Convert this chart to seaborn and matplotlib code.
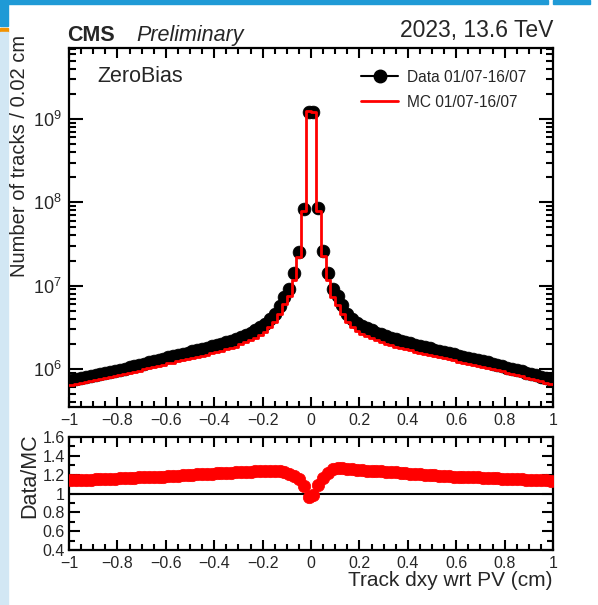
import numpy as np
import pandas as pd
import matplotlib
matplotlib.use("Agg")
import matplotlib.pyplot as plt
from matplotlib.lines import Line2D
from matplotlib.patches import Rectangle
from matplotlib.ticker import MultipleLocator, LogLocator, FuncFormatter, NullFormatter
import seaborn as sns

# Track dxy histogram: 100 bins of 0.02 cm between -1 and 1
n_bins = 100
bin_range = (-1.0, 1.0)
bin_edges = np.round(np.linspace(bin_range[0], bin_range[1], n_bins + 1), 2)
bin_centers = np.round((bin_edges[:-1] + bin_edges[1:]) / 2, 2)

# Data counts per bin (millions of tracks), negative dxy side then positive side
data_neg_millions = [
    0.74, 0.76, 0.78, 0.80, 0.83, 0.85, 0.87, 0.90, 0.92, 0.95,
    0.98, 1.01, 1.05, 1.08, 1.12, 1.16, 1.20, 1.24, 1.28, 1.33,
    1.38, 1.42, 1.47, 1.52, 1.57, 1.63, 1.68, 1.74, 1.80, 1.87,
    1.94, 2.02, 2.10, 2.19, 2.28, 2.42, 2.57, 2.74, 2.93, 3.15,
    3.45, 3.95, 4.55, 5.70, 7.40, 9.10, 14.1, 25.6, 84.0, 1210.0,
]
data_pos_millions = [
    1200.0, 85.0, 26.0, 14.3, 9.2, 7.5, 5.8, 4.6, 4.0, 3.6,
    3.30, 3.08, 2.90, 2.74, 2.60, 2.48, 2.37, 2.27, 2.18, 2.10,
    2.03, 1.96, 1.89, 1.83, 1.77, 1.71, 1.65, 1.60, 1.55, 1.50,
    1.45, 1.40, 1.36, 1.32, 1.28, 1.24, 1.20, 1.16, 1.12, 1.08,
    1.04, 1.00, 0.97, 0.94, 0.90, 0.87, 0.84, 0.81, 0.77, 0.74,
]

# Data/MC ratio per bin
ratio_neg = [
    1.14, 1.14, 1.14, 1.145, 1.145, 1.15, 1.15, 1.15, 1.155, 1.155,
    1.16, 1.16, 1.165, 1.165, 1.17, 1.17, 1.175, 1.175, 1.18, 1.18,
    1.185, 1.19, 1.19, 1.195, 1.20, 1.20, 1.205, 1.205, 1.21, 1.21,
    1.215, 1.215, 1.22, 1.22, 1.225, 1.225, 1.23, 1.23, 1.235, 1.235,
    1.24, 1.24, 1.24, 1.235, 1.225, 1.21, 1.19, 1.15, 1.08, 0.96,
]
ratio_pos = [
    0.98, 1.09, 1.16, 1.22, 1.26, 1.27, 1.27, 1.265, 1.255, 1.25,
    1.245, 1.24, 1.24, 1.235, 1.235, 1.23, 1.23, 1.225, 1.22, 1.215,
    1.21, 1.21, 1.205, 1.20, 1.20, 1.195, 1.19, 1.19, 1.185, 1.18,
    1.18, 1.175, 1.175, 1.17, 1.17, 1.165, 1.165, 1.16, 1.16, 1.155,
    1.155, 1.15, 1.15, 1.15, 1.145, 1.145, 1.14, 1.14, 1.14, 1.135,
]

x_ticks = [-1.0, -0.8, -0.6, -0.4, -0.2, 0.0, 0.2, 0.4, 0.6, 0.8, 1.0]
ratio_ticks = [0.4, 0.6, 0.8, 1.0, 1.2, 1.4, 1.6]

data_counts = np.array(data_neg_millions + data_pos_millions) * 1e6
ratio = np.array(ratio_neg + ratio_pos)
mc_counts = data_counts / ratio

df = pd.DataFrame({"dxy": bin_centers, "data": data_counts,
                   "mc": mc_counts, "ratio": ratio})

sns.set_theme(style="ticks")
plt.rcParams["font.family"] = ["Liberation Sans", "DejaVu Sans"]
plt.rcParams["axes.unicode_minus"] = True
plt.rcParams["mathtext.fontset"] = "custom"
plt.rcParams["mathtext.rm"] = "Liberation Sans"

W, H = 598, 605
fig = plt.figure(figsize=(W / 100, H / 100), dpi=100)


def fx(px):
    return px / W


def fy(py):
    return 1 - py / H


ax = fig.add_axes([fx(69), fy(407), fx(553) - fx(69), fy(48) - fy(407)])
rax = fig.add_axes([fx(69), fy(550), fx(553) - fx(69), fy(437) - fy(550)])

# Upper panel: data points and MC histogram
sns.scatterplot(data=df, x="dxy", y="data", ax=ax, color="black", s=85,
                edgecolor="black", linewidth=0.5, zorder=3, legend=False)
sns.histplot(data=df, x="dxy", weights="mc", bins=n_bins, binrange=bin_range,
             element="step", fill=False, color="red", linewidth=2, ax=ax,
             zorder=4)
ax.set_yscale("log")
ax.set_xlim(-1, 1)
ax.set_ylim(3.5e5, 7.1e9)
ax.set_xlabel("")
ax.set_ylabel("")

# Ratio panel
rax.axhline(1.0, color="black", lw=1.5, zorder=2)
sns.scatterplot(data=df, x="dxy", y="ratio", ax=rax, color="red", s=80,
                edgecolor="red", linewidth=0.5, zorder=3, legend=False)
rax.set_xlim(-1, 1)
rax.set_ylim(0.4, 1.6)
rax.set_xlabel("")
rax.set_ylabel("")


def num_fmt(v, pos=None):
    s = f"{v:g}"
    return s.replace("-", "\u2212")


for a in (ax, rax):
    a.set_xticks(x_ticks)
    a.xaxis.set_minor_locator(MultipleLocator(0.05))
    a.xaxis.set_major_formatter(FuncFormatter(num_fmt))
    a.tick_params(which="both", direction="in", top=True, right=True,
                  width=1.5, color="black", labelsize=11.5, pad=4)
    a.tick_params(axis="x", which="major", length=7.5)
    a.tick_params(axis="x", which="minor", length=4)
    for sp in a.spines.values():
        sp.set_linewidth(1.6)
        sp.set_color("black")
    a.set_facecolor("white")

ax.yaxis.set_major_locator(LogLocator(base=10, numticks=12))
ax.yaxis.set_minor_locator(LogLocator(base=10, subs=np.arange(2, 10), numticks=12))
ax.yaxis.set_minor_formatter(NullFormatter())
ax.tick_params(axis="y", which="major", length=10, labelsize=13, pad=5)
ax.tick_params(axis="y", which="minor", length=5)

rax.set_yticks(ratio_ticks)
rax.yaxis.set_minor_locator(MultipleLocator(0.1))
rax.yaxis.set_major_formatter(FuncFormatter(num_fmt))
rax.tick_params(axis="y", which="major", length=8, pad=3, labelsize=11.5)
rax.tick_params(axis="y", which="minor", length=4)

# Legend
handles = [Line2D([], [], color="black", marker="o", markersize=9, lw=1.5),
           Line2D([], [], color="red", lw=2)]
ax.legend(handles, ["Data 01/07-16/07", "MC 01/07-16/07"], loc="upper left",
          bbox_to_anchor=(0.603, 0.94), frameon=False, fontsize=11.2,
          handlelength=2.4, handletextpad=0.55, labelspacing=0.65,
          borderpad=0, borderaxespad=0)

# Labels and headers
fig.text(fx(20), fy(156), "Number of tracks / 0.02 cm", rotation=90,
         ha="center", va="center", fontsize=14.5)
fig.text(fx(30), fy(476), "Data/MC", rotation=90, ha="center", va="center",
         fontsize=15.5)
fig.text(fx(553), fy(580), "Track dxy wrt PV (cm)", ha="right", va="center",
         fontsize=15)
fig.text(fx(67), fy(41), "CMS", ha="left", va="baseline", fontsize=15.5,
         fontweight="bold")
fig.text(fx(136), fy(41), "Preliminary", ha="left", va="baseline",
         fontsize=15.5, fontstyle="italic")
fig.text(fx(553), fy(37), "2023, 13.6 TeV", ha="right", va="baseline",
         fontsize=16.5)
ax.text(0.058, 0.92, "ZeroBias", transform=ax.transAxes, ha="left",
        va="center", fontsize=15.5)

# Window frame strips along the top and left edges
frame_blue = "#1f9ad6"
fig.patches.append(Rectangle((0, fy(4)), fx(548), 1 - fy(4), transform=fig.transFigure,
                             color=frame_blue, zorder=0))
fig.patches.append(Rectangle((fx(553), fy(4)), fx(590) - fx(553), 1 - fy(4),
                             transform=fig.transFigure, color=frame_blue, zorder=0))
fig.patches.append(Rectangle((0, fy(26)), fx(8), 1 - fy(26), transform=fig.transFigure,
                             color=frame_blue, zorder=0))
fig.patches.append(Rectangle((0, fy(32)), fx(8), fy(28) - fy(32), transform=fig.transFigure,
                             color="#f39200", zorder=0))
fig.patches.append(Rectangle((0, 0), fx(8), fy(32), transform=fig.transFigure,
                             color="#d2e7f4", zorder=0))

fig.savefig("out.png", dpi=100, facecolor="white")
